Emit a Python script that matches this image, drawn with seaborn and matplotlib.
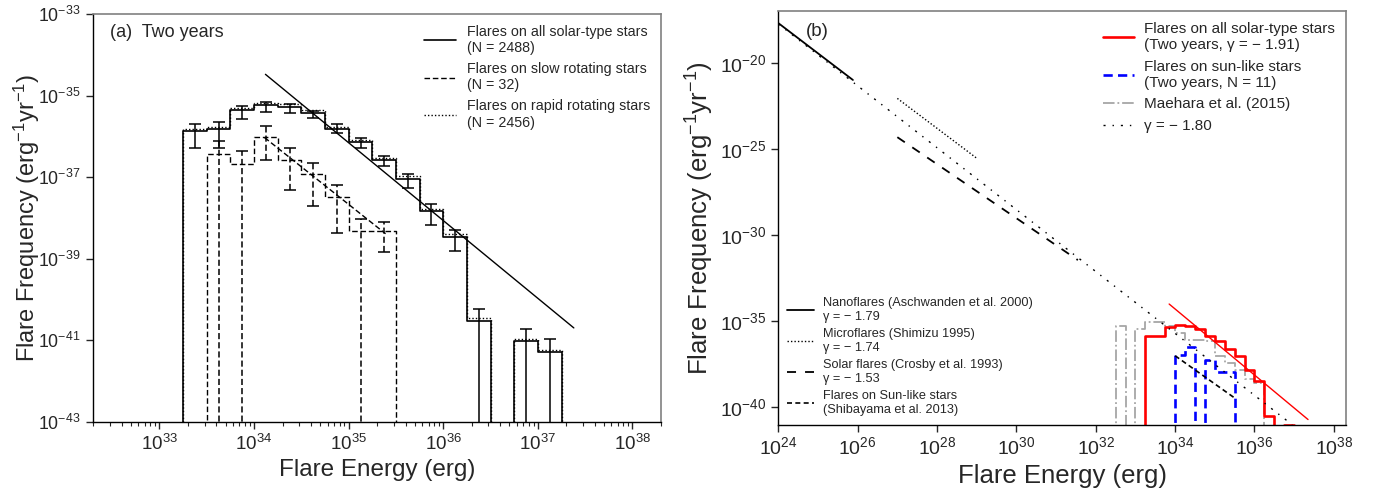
import numpy as np
import matplotlib
matplotlib.use("Agg")
import matplotlib.pyplot as plt
import matplotlib.ticker as mticker
from matplotlib.lines import Line2D
import seaborn as sns

# ---------------- data (log10 values) ----------------
NEG = float("-inf")   # empty bin / error bar reaching zero
NA = float("nan")     # no error bar

# Panel (a): two-year histograms, 0.25-dex bins
edges_all = [33.25, 33.5, 33.75, 34.0, 34.25, 34.5, 34.75, 35.0, 35.25,
             35.5, 35.75, 36.0, 36.25, 36.5, 36.75, 37.0, 37.25]
freq_all = [-35.87, -35.83, -35.36, -35.24, -35.28, -35.44, -35.83, -36.14,
            -36.59, -37.04, -37.84, -38.47, -40.52, NEG, -41.03, -41.28]
err_hi_all = [-35.71, -35.65, -35.25, -35.17, -35.22, -35.38, -35.71, -36.05,
              -36.48, -36.93, -37.67, -38.31, -40.23, NA, -40.73, -40.98]
err_lo_all = [-36.28, -36.28, -35.58, -35.41, -35.42, -35.55, -35.93, -36.28,
              -36.73, -37.28, -38.18, -38.82, NEG, NA, NEG, NEG]
freq_rapid = [-35.81, -35.77, -35.30, -35.18, -35.22, -35.36, -35.77, -36.10,
              -36.53, -36.98, -37.79, -38.39, -40.46, NEG, -40.98, -41.23]

edges_slow = [33.5, 33.75, 34.0, 34.25, 34.5, 34.75, 35.0, 35.25, 35.5]
freq_slow = [-36.44, -36.69, -36.02, -36.57, -36.93, -37.48, -38.33, -38.33]
err_hi_slow = [-36.12, -36.37, -35.75, -36.28, -36.65, -37.20, -38.02, -38.10]
err_lo_slow = [NEG, NEG, -36.59, -37.32, -37.72, -38.36, NEG, -38.85]

fit_all_E = [34.12, 37.38]
fit_all_F = [-34.48, -40.70]
fit_slow_E = [34.11, 35.39]
fit_slow_F = [-36.03, -38.39]

labels_a = ["Flares on all solar-type stars\n(N = 2488)",
            "Flares on slow rotating stars\n(N = 32)",
            "Flares on rapid rotating stars\n(N = 2456)"]
xticks_a = [33, 34, 35, 36, 37, 38]
yticks_a = [-43, -41, -39, -37, -35, -33]

# Panel (b)
edges_maehara = [32.5, 32.75, 33.0, 33.25, 33.5, 33.75, 34.0, 34.25, 34.5,
                 34.75, 35.0, 35.25, 35.5, 35.75, 36.0, 36.25]
freq_maehara = [-35.25, NEG, -35.44, -35.06, -35.06, -35.25, -35.68, -36.06,
                -36.10, -36.16, -37.03, -37.40, -37.85, -38.35, -38.57]
edges_sunlike = [34.0, 34.25, 34.5, 34.75, 35.0, 35.25, 35.5]
freq_sunlike = [-36.95, -36.50, NEG, -37.22, -37.93, -37.93]

nano_E, nano_F = [24.0, 25.88], [-17.70, -21.00]
micro_E, micro_F = [27.0, 29.0], [-22.07, -25.54]
crosby_E, crosby_F = [27.0, 31.55], [-24.32, -31.45]
shiba_E, shiba_F = [34.0, 35.5], [-37.00, -39.45]
g180_E, g180_F = [24.0, 36.95], [-17.75, -41.00]
fit_b_E, fit_b_F = [33.85, 37.35], [-34.00, -40.70]

labels_b_upper = ["Flares on all solar-type stars\n(Two years, γ = − 1.91)",
                  "Flares on sun-like stars\n(Two years, N = 11)",
                  "Maehara et al. (2015)",
                  "γ = − 1.80"]
labels_b_lower = ["Nanoflares (Aschwanden et al. 2000)\nγ = − 1.79",
                  "Microflares (Shimizu 1995)\nγ = − 1.74",
                  "Solar flares (Crosby et al. 1993)\nγ = − 1.53",
                  "Flares on Sun-like stars\n(Shibayama et al. 2013)"]
xticks_b = [24, 26, 28, 30, 32, 34, 36, 38]
yticks_b = [-40, -35, -30, -25, -20]

# ---------------- style ----------------
sns.set_style("ticks")
plt.rcParams["font.family"] = ["Liberation Sans", "DejaVu Sans"]
plt.rcParams["mathtext.fontset"] = "custom"
plt.rcParams["mathtext.rm"] = "Liberation Sans"
plt.rcParams["mathtext.it"] = "Liberation Sans:italic"
plt.rcParams["mathtext.bf"] = "Liberation Sans:bold"
plt.rcParams["mathtext.default"] = "regular"
plt.rcParams["axes.unicode_minus"] = False

FLOOR = 1e-60
DASH = (0, (4, 2))
DOT = (0, (1, 1.5))


def p10(a):
    return 10.0 ** np.asarray(a, dtype=float)


def step_xy(edges, vals):
    e = p10(edges)
    v = p10(vals)
    v = np.where(v > 0, v, FLOOR)
    x = np.concatenate([[e[0]], e])
    y = np.concatenate([[FLOOR], v, [FLOOR]])
    return x, y


def draw_step(ax, edges, vals, **kw):
    x, y = step_xy(edges, vals)
    sns.lineplot(x=x, y=y, ax=ax, estimator=None, sort=False, legend=False,
                 drawstyle="steps-post", **kw)


def draw_line(ax, E, F, **kw):
    sns.lineplot(x=p10(E), y=p10(F), ax=ax, estimator=None, sort=False,
                 legend=False, **kw)


def draw_err(ax, edges, vals, hi, lo, ls="-"):
    e = np.asarray(edges, dtype=float)
    c = p10((e[:-1] + e[1:]) / 2)
    f = p10(vals)
    h = p10(hi)
    l = p10(lo)
    l = np.where(l > 0, l, FLOOR)
    ok = np.isfinite(h) & (f > 0)
    eb = ax.errorbar(c[ok], f[ok], yerr=[f[ok] - l[ok], h[ok] - f[ok]],
                     fmt="none", ecolor="black", elinewidth=1.1,
                     capsize=4, capthick=1.1)
    if ls != "-":
        for coll in eb[2]:
            coll.set_linestyle(ls)


fig = plt.figure(figsize=(13.79, 4.94), dpi=100)
axa = fig.add_axes([0.0677, 0.1464, 0.4116, 0.8253])
axb = fig.add_axes([0.5644, 0.1403, 0.4115, 0.8374])

for ax in (axa, axb):
    ax.set_xscale("log")
    ax.set_yscale("log")

# ---------------- panel (a) ----------------
draw_step(axa, edges_all, freq_all, color="black", linewidth=1.2,
          linestyle="-", label=labels_a[0])
draw_step(axa, edges_slow, freq_slow, color="black", linewidth=1.0,
          linestyle=DASH, label=labels_a[1])
draw_step(axa, edges_all, freq_rapid, color="black", linewidth=1.0,
          linestyle=DOT, label=labels_a[2])
draw_err(axa, edges_all, freq_all, err_hi_all, err_lo_all)
draw_err(axa, edges_slow, freq_slow, err_hi_slow, err_lo_slow, ls=DASH)
draw_line(axa, fit_all_E, fit_all_F, color="black", linewidth=1.0)
draw_line(axa, fit_slow_E, fit_slow_F, color="black", linewidth=1.0,
          linestyle=DASH)

axa.set_xlim(2e32, 2e38)
axa.set_ylim(1e-43, 1e-33)
axa.xaxis.set_major_locator(mticker.FixedLocator(p10(xticks_a)))
minor_a = [m * 10.0 ** d for d in range(32, 39) for m in range(2, 10)
           if 2e32 <= m * 10.0 ** d <= 2e38]
axa.xaxis.set_minor_locator(mticker.FixedLocator(minor_a))
axa.xaxis.set_minor_formatter(mticker.NullFormatter())
axa.yaxis.set_major_locator(mticker.FixedLocator(p10(yticks_a)))
axa.yaxis.set_minor_locator(mticker.NullLocator())
axa.xaxis.set_major_formatter(mticker.LogFormatterSciNotation())
axa.yaxis.set_major_formatter(mticker.LogFormatterSciNotation())
axa.tick_params(axis="x", which="major", labelsize=13.5, direction="out",
                length=5, width=1)
axa.tick_params(axis="y", which="major", labelsize=12.8, direction="out",
                length=5, width=1, pad=4)
axa.tick_params(axis="x", which="minor", direction="out", length=3, width=0.8)
axa.set_xlabel("Flare Energy (erg)", fontsize=17.5)
axa.set_ylabel("Flare Frequency (erg$^{-1}$yr$^{-1}$)", fontsize=17)
axa.yaxis.set_label_coords(-0.09, 0.5)
axa.text(0.03, 0.955, "(a)  Two years", transform=axa.transAxes,
         fontsize=13, va="center", ha="left")
axa.legend(loc="upper right", frameon=False, fontsize=10.3,
           handlelength=2.2, labelspacing=0.5, borderaxespad=0.35,
           handletextpad=0.8)

# ---------------- panel (b) ----------------
draw_step(axb, edges_maehara, freq_maehara, color="#a6a6a6", linewidth=1.3,
          linestyle="-.")
draw_step(axb, edges_all, freq_all, color="red", linewidth=1.9,
          linestyle="-")
draw_step(axb, edges_sunlike, freq_sunlike, color="#0000ff", linewidth=1.9,
          linestyle=(0, (3.5, 2)))
draw_line(axb, fit_b_E, fit_b_F, color="red", linewidth=1.0)
draw_line(axb, g180_E, g180_F, color="black", linewidth=1.0,
          linestyle=(0, (1.5, 5, 1, 5)))
draw_line(axb, nano_E, nano_F, color="black", linewidth=1.3)
draw_line(axb, micro_E, micro_F, color="black", linewidth=1.0,
          linestyle=DOT)
draw_line(axb, crosby_E, crosby_F, color="black", linewidth=1.3,
          linestyle=(0, (5, 5)))
draw_line(axb, shiba_E, shiba_F, color="black", linewidth=1.2,
          linestyle=(0, (3, 2)))

h_up = [Line2D([], [], color="red", lw=1.9),
        Line2D([], [], color="#0000ff", lw=1.9, ls=(0, (3.5, 2))),
        Line2D([], [], color="#a6a6a6", lw=1.3, ls="-."),
        Line2D([], [], color="black", lw=1.0, ls=(0, (1.5, 5, 1, 5)))]
h_lo = [Line2D([], [], color="black", lw=1.3),
        Line2D([], [], color="black", lw=1.0, ls=DOT),
        Line2D([], [], color="black", lw=1.3, ls=(0, (5, 5))),
        Line2D([], [], color="black", lw=1.2, ls=(0, (3, 2)))]
leg1 = axb.legend(h_up, labels_b_upper, loc="upper right", frameon=False,
                  fontsize=11, handlelength=2.0, labelspacing=0.5,
                  borderaxespad=0.3, handletextpad=0.7)
axb.add_artist(leg1)
axb.legend(h_lo, labels_b_lower, loc="lower left", frameon=False,
           fontsize=9.2, handlelength=2.1, labelspacing=0.4,
           borderaxespad=0.3, handletextpad=0.7)

axb.set_xlim(1e24, 2e38)
axb.set_ylim(1e-41, 1e-17)
axb.xaxis.set_major_locator(mticker.FixedLocator(p10(xticks_b)))
axb.xaxis.set_minor_locator(mticker.NullLocator())
axb.yaxis.set_major_locator(mticker.FixedLocator(p10(yticks_b)))
axb.yaxis.set_minor_locator(mticker.NullLocator())
axb.xaxis.set_major_formatter(mticker.LogFormatterSciNotation())
axb.yaxis.set_major_formatter(mticker.LogFormatterSciNotation())
axb.tick_params(axis="both", which="major", labelsize=14, direction="out",
                length=5, width=1)
axb.set_xlabel("Flare Energy (erg)", fontsize=18.5)
axb.set_ylabel("Flare Frequency (erg$^{-1}$yr$^{-1}$)", fontsize=18.5,
               labelpad=3)
axb.text(0.048, 0.95, "(b)", transform=axb.transAxes, fontsize=13.5,
         va="center", ha="left")

for ax in (axa, axb):
    for s in ("top", "right"):
        ax.spines[s].set_visible(True)
        ax.spines[s].set_color("#808080")
        ax.spines[s].set_linewidth(1.2)
    for s in ("left", "bottom"):
        ax.spines[s].set_color("black")
        ax.spines[s].set_linewidth(1.0)

fig.savefig("out.png", dpi=100)
